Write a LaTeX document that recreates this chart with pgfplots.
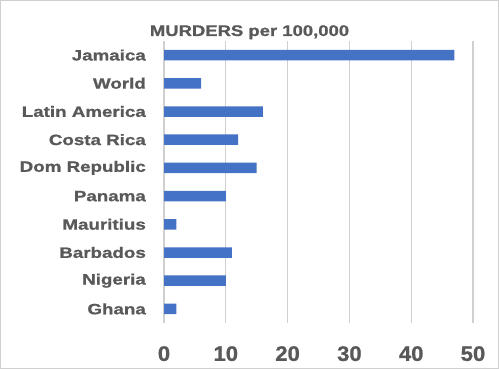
\documentclass[border=0pt]{standalone}
\usepackage{fontspec}
\usepackage{pgfplots}
\pgfplotsset{compat=1.18}
\setmainfont{Liberation Sans}
\newfontfamily\catfont{Liberation Sans}[FakeStretch=1.25, BoldFeatures={FakeBold=1}]
\newfontfamily\titfont{Liberation Sans}[FakeStretch=1.2, BoldFeatures={FakeBold=1}]
\newfontfamily\tickfont{Liberation Sans}[FakeStretch=1.05, BoldFeatures={FakeBold=1}]
\definecolor{txt}{HTML}{595959}
\definecolor{barc}{HTML}{4472C4}
\definecolor{grd}{HTML}{D0D0D0}
\begin{document}
\begin{tikzpicture}
\draw[draw=grd, line width=1bp] (0.5bp,0.5bp) rectangle (498.5bp,368.5bp);
\begin{axis}[at={(164bp,46bp)}, anchor=south west, scale only axis,
  width=309bp, height=282bp,
  xbar, bar width=10.5bp,
  xmin=0, xmax=50, ymin=-0.5, ymax=9.5, y dir=reverse,
  xtick={0,10,...,50}, ytick={0,...,9},
  yticklabels={Jamaica,World,Latin America,Costa Rica,Dom Republic,Panama,Mauritius,Barbados,Nigeria,Ghana},
  xmajorgrids, major grid style={grd, line width=1.2bp},
  axis line style={draw=none}, major tick length=0pt,
  yticklabel style={font=\catfont\bfseries\fontsize{15bp}{18bp}\selectfont, text=txt, anchor=east, inner sep=0pt, xshift=-18bp},
  xticklabel style={font=\tickfont\bfseries\fontsize{21bp}{24bp}\selectfont, text=txt, anchor=north, inner sep=0pt, yshift=-23bp},
  /pgf/number format/assume math mode=true,
  clip=false]
\addplot[fill=barc, draw=none] coordinates {(47,0) (6,1) (16,2) (12,3) (15,4) (10,5) (2,6) (11,7) (10,8) (2,9)};
\end{axis}
\node[anchor=base, inner sep=0pt, text=txt, font=\titfont\bfseries\fontsize{15.4bp}{18bp}\selectfont] at (249.5bp,333bp) {MURDERS per 100,000};
\end{tikzpicture}
\end{document}
